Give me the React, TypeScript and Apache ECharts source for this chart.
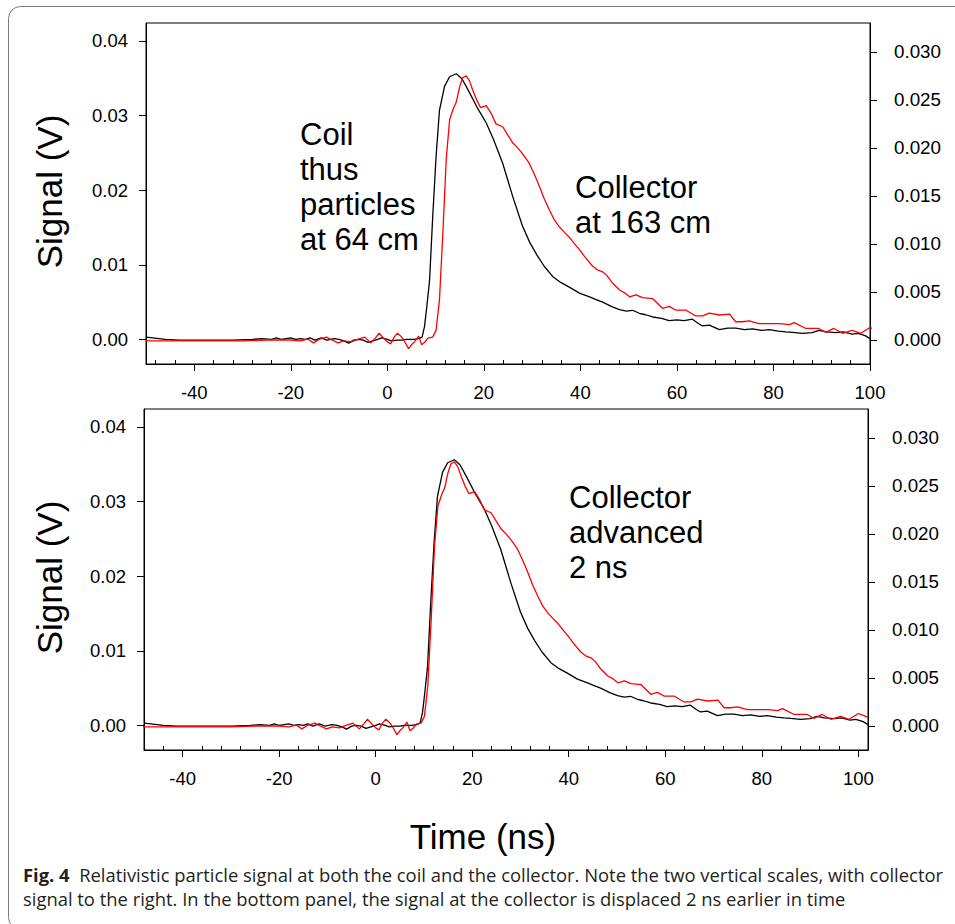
import React, { useEffect, useRef } from "react";
import * as echarts from "echarts";

// ---- Data ----
// Coil signal (black, left axis, V) – time in ns as plotted in the top panel
const coilTime = [
  -50, -48.6, -46, -43, -40, -36, -32, -28, -26, -24, -23, -22, -21, -20, -19, -18, -17, -16, -15, -13.7,
  -12.5, -11, -10, -9, -8, -7, -6, -5, -4, -3, -2, -1.2, 0, 0.8, 2, 3, 4, 5.5, 6.5, 7.2,
  7.7, 8.2, 8.75, 9.4, 10.1, 10.8, 11.85, 12.9, 14.3, 15.5, 17, 18.5, 20.5, 22, 23.9, 26, 28, 29.5, 31, 32.5,
  34.3, 36, 37.7, 39.8, 41.9, 43, 44.6, 46.5, 48.1, 49.5, 50.8, 52.2, 53.5, 55, 56.8, 58.4, 60, 61.5, 63.2, 64.5,
  65.3, 66.7, 68.8, 70.5, 72.2, 74, 75.7, 77.5, 79.1, 81, 82.6, 84.5, 86, 88, 89.4, 91, 92.9, 94.5, 96.3, 97.5,
  99, 100,
];
const coilSignal = [
  0.0003, 0.0002, 0.0, -0.0001, -0.0001, -0.0001, -0.0001, 0.0, 0.0001, 0.0, 0.0002, 0.0, 0.0001, 0.0002, 0.0, 0.0001, 0.0, 0.0002, -0.0001, 0.0002,
  -0.0001, 0.0001, 0.0, -0.0002, -0.0005, -0.0001, 0.0, -0.0001, -0.0004, -0.0002, 0.0, 0.0002, 0.0, -0.0002, -0.0001, -0.0001, 0.0, 0.0, 0.0001, 0.0003,
  0.0017, 0.0045, 0.0079, 0.0164, 0.0245, 0.0307, 0.0339, 0.0352, 0.0356, 0.0349, 0.0331, 0.0312, 0.029, 0.0268, 0.0236, 0.0191, 0.0152, 0.013, 0.0113, 0.0098,
  0.0084, 0.0076, 0.007, 0.0062, 0.0057, 0.0054, 0.005, 0.0044, 0.004, 0.0038, 0.0039, 0.0035, 0.0033, 0.003, 0.0028, 0.0025, 0.0026, 0.0025, 0.0027, 0.0021,
  0.0018, 0.0019, 0.0013, 0.0015, 0.0015, 0.0013, 0.0014, 0.0012, 0.0013, 0.0011, 0.001, 0.0009, 0.0008, 0.0009, 0.0012, 0.001, 0.0009, 0.001, 0.0007, 0.0008,
  0.0005, 0.0001,
];
// Collector signal (red, right axis, V)
const collectorTime = [
  -50, -45, -40, -35, -30, -25, -22, -20, -18, -16.5, -15.3, -14, -12.6, -11.5, -10.2, -9, -7.5, -6, -4.7, -3.4,
  -2.5, -1.7, -0.8, 0, 0.7, 1.4, 2.1, 2.8, 3.4, 4.4, 5.0, 5.6, 6.5, 7.1, 7.8, 8.4, 9.4, 10.1, 10.8, 11.5,
  12.2, 12.9, 13.6, 14.3, 15.0, 15.6, 16.3, 17.0, 17.7, 18.5, 19.3, 20.5, 21.5, 22.5, 23.9, 25, 26, 27, 28, 29.4,
  30.5, 31.5, 32.5, 33.6, 34.6, 35.6, 36.7, 37.7, 38.8, 39.8, 41, 42.5, 43.5, 44.6, 45.5, 46.7, 48.1, 49.2, 50.2, 51.5,
  52.9, 55, 56, 57, 58.4, 59.8, 61.9, 63.9, 65.3, 66.7, 68.8, 70.9, 72.2, 73.5, 75, 77, 79.1, 81.2, 83.3, 84.3,
  86.7, 89.4, 90.8, 92.5, 94.3, 96.3, 98.1, 100, 101, 102,
];
const collectorSignal = [
  -0.0001, -0.0001, -0.0001, -0.0001, -0.0001, 0.0, 0.0, 0.0, -0.0001, 0.0001, -0.0003, 0.0001, 0.0003, 0.0, -0.0003, -0.0001, -0.0002, 0.0001, 0.0003, -0.0003,
  0.0002, 0.0007, 0.0002, -0.0002, -0.0004, 0.0003, 0.0007, 0.0004, 0.0, -0.0009, -0.0005, -0.0002, 0.0004, -0.0005, -0.0002, 0.0002, 0.0003, 0.001, 0.0042, 0.0111,
  0.0188, 0.0229, 0.024, 0.0248, 0.0264, 0.0273, 0.0275, 0.027, 0.026, 0.025, 0.0242, 0.0244, 0.0236, 0.0225, 0.0222, 0.0213, 0.0205, 0.02, 0.0194, 0.0184,
  0.0172, 0.016, 0.0147, 0.0135, 0.0125, 0.0118, 0.0112, 0.0107, 0.01, 0.0094, 0.0086, 0.0077, 0.0073, 0.0071, 0.0067, 0.0059, 0.0052, 0.0049, 0.0045, 0.0047,
  0.0044, 0.0043, 0.0038, 0.0033, 0.0035, 0.0031, 0.0031, 0.0025, 0.0025, 0.0028, 0.0026, 0.0027, 0.0019, 0.0019, 0.002, 0.0017, 0.0017, 0.0017, 0.0016, 0.0018,
  0.0012, 0.0012, 0.0008, 0.0012, 0.0007, 0.001, 0.0007, 0.0013, 0.0011, 0.0009,
];
// In the bottom panel the coil trace sits 2 ns later relative to the collector
const bottomCoilShift = 2;

// Axis ticks
const timeMajorTicks = [-40, -20, 0, 20, 40, 60, 80, 100];
const timeMinorTicks = [
  -48, -44, -36, -32, -28, -24, -16, -12, -8, -4, 4, 8, 12, 16, 24, 28, 32, 36, 44, 48, 52, 56, 64, 68, 72, 76, 84, 88, 92, 96,
];
const coilTicks = [0, 0.01, 0.02, 0.03, 0.04];
const collectorTicks = [0, 0.005, 0.01, 0.015, 0.02, 0.025, 0.03];

const FONT = "'Liberation Sans', Arial, Helvetica, sans-serif";
const CAPTION_FONT = "'Open Sans', 'Noto Sans', sans-serif";

function zip(xs: number[], ys: number[], shift = 0) {
  return xs.map((x, i) => [x + shift, ys[i]]);
}

export default function App() {
  const ref = useRef<HTMLDivElement>(null);

  useEffect(() => {
    if (!ref.current) return;
    const chart = echarts.init(ref.current, undefined, { renderer: "svg" });

    const gridTop = { left: 146, top: 23, width: 724, height: 341 };
    const gridBot = { left: 144, top: 409, width: 724, height: 341 };

    const mainX = (min: number, max: number, gridIndex: number) => ({
      type: "value",
      gridIndex,
      min,
      max,
      position: "bottom",
      axisLine: { show: true, onZero: false, lineStyle: { color: "#000", width: 1 } },
      axisTick: { show: true, inside: false, length: 7, customValues: timeMajorTicks, lineStyle: { color: "#000" } },
      axisLabel: {
        show: true,
        customValues: timeMajorTicks,
        margin: 19,
        fontSize: 18.5,
        fontFamily: FONT,
        color: "#000",
        formatter: (v: number) => String(v),
      },
      splitLine: { show: false },
    });
    const minorX = (min: number, max: number, gridIndex: number) => ({
      type: "value",
      gridIndex,
      min,
      max,
      position: "bottom",
      axisLine: { show: false, onZero: false },
      axisTick: { show: true, inside: true, length: 4, customValues: timeMinorTicks, lineStyle: { color: "#000" } },
      axisLabel: { show: false },
      splitLine: { show: false },
    });
    const leftY = (gridIndex: number) => ({
      type: "value",
      gridIndex,
      position: "left",
      min: -0.0033,
      max: 0.0424,
      axisLine: { show: true, onZero: false, lineStyle: { color: "#000" } },
      axisTick: { show: true, inside: false, length: 7, customValues: coilTicks, lineStyle: { color: "#000" } },
      axisLabel: {
        customValues: coilTicks,
        margin: 18,
        fontSize: 18.5,
        fontFamily: FONT,
        color: "#000",
        formatter: (v: number) => v.toFixed(2),
      },
      splitLine: { show: false },
    });
    const rightY = (gridIndex: number) => ({
      type: "value",
      gridIndex,
      position: "right",
      min: -0.0025,
      max: 0.033,
      axisLine: { show: true, onZero: false, lineStyle: { color: "#000" } },
      axisTick: { show: true, inside: false, length: 7, customValues: collectorTicks, lineStyle: { color: "#000" } },
      axisLabel: {
        customValues: collectorTicks,
        margin: 24,
        fontSize: 18.8,
        fontFamily: FONT,
        color: "#000",
        formatter: (v: number) => v.toFixed(3),
      },
      splitLine: { show: false },
    });
    const hiddenY = (gridIndex: number) => ({ type: "value", gridIndex, min: 0, max: 1, show: false });

    const lineSeries = (data: number[][], xAxisIndex: number, yAxisIndex: number, color: string) => ({
      type: "line",
      xAxisIndex,
      yAxisIndex,
      data,
      showSymbol: false,
      symbol: "none",
      smooth: false,
      clip: true,
      lineStyle: { color, width: 1.3 },
      silent: true,
    });

    const option: any = {
      animation: false,
      backgroundColor: "#fff",
      grid: [
        { ...gridTop, show: true, borderColor: "#000", borderWidth: 1, backgroundColor: "transparent", containLabel: false },
        { ...gridTop, show: false, containLabel: false },
        { ...gridBot, show: true, borderColor: "#000", borderWidth: 1, backgroundColor: "transparent", containLabel: false },
        { ...gridBot, show: false, containLabel: false },
      ],
      xAxis: [mainX(-50, 100, 0), minorX(-50, 100, 1), mainX(-48, 102, 2), minorX(-48, 102, 3)],
      yAxis: [leftY(0), rightY(0), hiddenY(1), leftY(2), rightY(2), hiddenY(3)],
      series: [
        lineSeries(zip(coilTime, coilSignal), 0, 0, "#000"),
        lineSeries(zip(collectorTime, collectorSignal), 0, 1, "#ff0000"),
        lineSeries(zip(coilTime, coilSignal, bottomCoilShift), 2, 3, "#000"),
        lineSeries(zip(collectorTime, collectorSignal), 2, 4, "#ff0000"),
      ],
      graphic: [
        {
          type: "rect",
          silent: true,
          shape: { x: 8.5, y: 6.5, width: 960, height: 923, r: 12 },
          style: { fill: "none", stroke: "#7a7a7a", lineWidth: 1 },
          z: -10,
        },
        {
          type: "text",
          x: 49,
          y: 191.5,
          rotation: Math.PI / 2,
          style: { text: "Signal (V)", fontSize: 35, fontFamily: FONT, fill: "#000", align: "center", verticalAlign: "middle" },
        },
        {
          type: "text",
          x: 49,
          y: 577.5,
          rotation: Math.PI / 2,
          style: { text: "Signal (V)", fontSize: 35, fontFamily: FONT, fill: "#000", align: "center", verticalAlign: "middle" },
        },
        {
          type: "text",
          x: 483,
          y: 836,
          style: { text: "Time (ns)", fontSize: 35, fontFamily: FONT, fill: "#000", align: "center", verticalAlign: "middle" },
        },
        {
          type: "text",
          x: 300,
          y: 116.5,
          style: {
            text: "Coil\nthus\nparticles\nat 64 cm",
            fontSize: 31,
            lineHeight: 35,
            fontFamily: FONT,
            fill: "#000",
            align: "left",
            verticalAlign: "top",
          },
        },
        {
          type: "text",
          x: 575,
          y: 170,
          style: {
            text: "Collector\nat 163 cm",
            fontSize: 31,
            lineHeight: 35,
            fontFamily: FONT,
            fill: "#000",
            align: "left",
            verticalAlign: "top",
          },
        },
        {
          type: "text",
          x: 569,
          y: 480,
          style: {
            text: "Collector\nadvanced\n2 ns",
            fontSize: 31,
            lineHeight: 35,
            fontFamily: FONT,
            fill: "#000",
            align: "left",
            verticalAlign: "top",
          },
        },
        {
          type: "text",
          x: 23,
          y: 862,
          style: {
            text:
              "{b|Fig. 4}  Relativistic particle signal at both the coil and the collector. Note the two vertical scales, with collector\nsignal to the right. In the bottom panel, the signal at the collector is displaced 2 ns earlier in time",
            fontSize: 18.4,
            lineHeight: 24,
            fontFamily: CAPTION_FONT,
            fill: "#231f20",
            align: "left",
            verticalAlign: "top",
            rich: {
              b: { fontSize: 18.4, lineHeight: 24, fontWeight: "bold", fontFamily: CAPTION_FONT, fill: "#231f20" },
            },
          },
        },
      ],
    };

    chart.setOption(option);
    return () => chart.dispose();
  }, []);

  return (
    <div
      ref={ref}
      style={{ position: "absolute", left: 0, top: 0, width: 955, height: 924, background: "#fff" }}
    />
  );
}
